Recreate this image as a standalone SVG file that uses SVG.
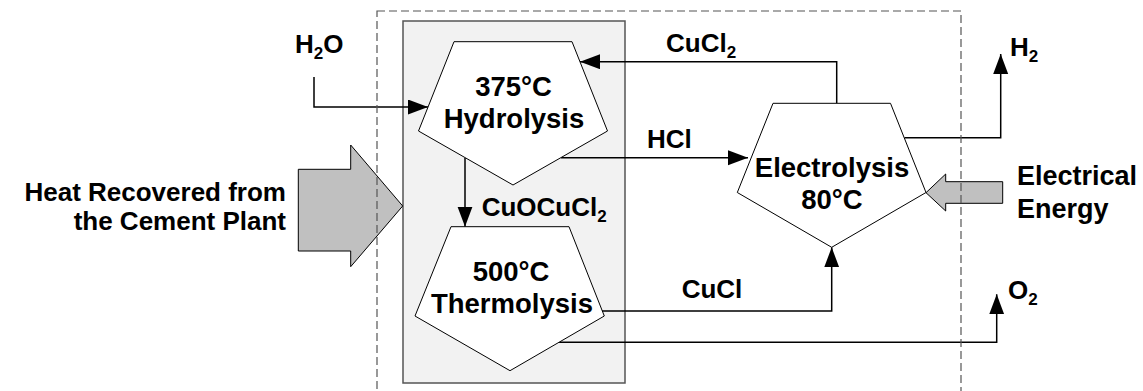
<svg xmlns="http://www.w3.org/2000/svg" width="1143" height="391" viewBox="0 0 1143 391">
<style>
text{font-family:"Liberation Sans",Arial,sans-serif;font-weight:bold;font-size:26px;fill:#000}
.mid{text-anchor:middle}
.end{text-anchor:end}
.big{font-size:27.5px}
.side{font-size:27px}
.sub{font-size:17px}
.node{fill:#fff;stroke:#000;stroke-width:1}
.conn{fill:none;stroke:#000;stroke-width:1.5}
.block{fill:#c0c0c0;stroke:#000;stroke-width:1}
</style>
<defs>
<marker id="ah" markerUnits="userSpaceOnUse" markerWidth="21" markerHeight="16" refX="20" refY="7.5" orient="auto" viewBox="0 0 21 16">
<path d="M0,0 L20,7.5 L0,15 z" fill="#000"/>
</marker>
</defs>
<rect id="subsystem" x="403" y="21" width="222" height="362" fill="#f2f2f2" stroke="#555" stroke-width="1.5"/>
<g id="connectors">
<path class="conn" d="M314,77 V107 H428" marker-end="url(#ah)"/>
<path class="conn" d="M836.7,103.3 V61.7 H580" marker-end="url(#ah)"/>
<path class="conn" d="M561,157.7 H748" marker-end="url(#ah)"/>
<path class="conn" d="M465,158 V226.7" marker-end="url(#ah)"/>
<path class="conn" d="M602,311 H831.7 V247.3" marker-end="url(#ah)"/>
<path class="conn" d="M559,342.3 H996.7 V294.3" marker-end="url(#ah)"/>
<path class="conn" d="M904.5,137.7 H1000.7 V54" marker-end="url(#ah)"/>
</g>
<g id="heat-arrow">
<polygon class="block" points="298.3,169.3 350.7,169.3 350.7,145 402.7,206 350.7,266.7 350.7,251 298.3,251"/>
<text class="end" x="286" y="201">Heat Recovered from</text>
<text class="end" x="286" y="230">the Cement Plant</text>
</g>
<g id="electrical-arrow">
<polygon class="block" points="1002.7,181.7 945.7,181.7 945.7,174 926,192.7 945.7,211 945.7,203.3 1002.7,203.3"/>
<text class="side" x="1017" y="185">Electrical</text>
<text class="side" x="1017" y="218">Energy</text>
</g>
<rect id="boundary" x="377" y="11" width="584" height="385" fill="none" stroke="#555" stroke-width="1.2" stroke-dasharray="8 4"/>
<g id="hydrolysis">
<polygon class="node" points="454,41.7 572,41.7 607.5,131 513,185 418.5,131"/>
<text class="mid big" x="513.5" y="96">375°C</text>
<text class="mid big" x="514" y="128">Hydrolysis</text>
</g>
<g id="thermolysis">
<polygon class="node" points="451,226.7 569,226.7 604.3,316 510,370.7 415,316"/>
<text class="mid big" x="511" y="280.7">500°C</text>
<text class="mid big" x="512" y="313.3">Thermolysis</text>
</g>
<g id="electrolysis">
<polygon class="node" points="773,103.3 890.5,103.3 926,192.5 831.7,247.3 737.3,192.5"/>
<text class="mid big" x="832" y="176.7">Electrolysis</text>
<text class="mid big" x="832" y="209.3">80°C</text>
</g>
<g id="labels">
<text x="295" y="52.7">H<tspan class="sub" dy="6">2</tspan><tspan dy="-6">O</tspan></text>
<text x="666" y="51.7">CuCl<tspan class="sub" dy="6">2</tspan></text>
<text x="647" y="148.3">HCl</text>
<text x="481.7" y="216">CuOCuCl<tspan class="sub" dy="6">2</tspan></text>
<text x="681.7" y="298.3">CuCl</text>
<text x="1010" y="56">H<tspan class="sub" dy="6">2</tspan></text>
<text x="1008" y="299.3">O<tspan class="sub" dy="6">2</tspan></text>
</g>
</svg>
